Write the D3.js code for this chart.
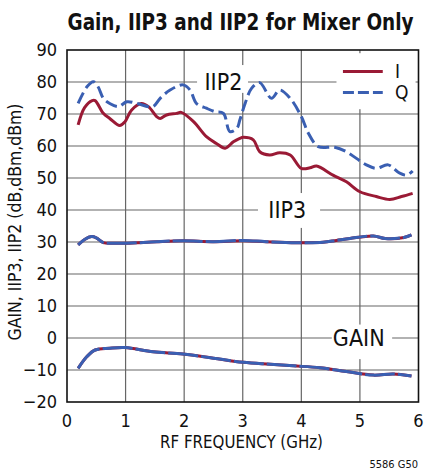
<!DOCTYPE html>
<html><head><meta charset="utf-8">
<script src="https://cdn.jsdelivr.net/npm/d3@7"></script>
<style>
html,body{margin:0;padding:0;background:#fff;}
text{font-family:'Liberation Sans Narrow','DejaVu Sans Condensed','Roboto Condensed',sans-serif;}
</style></head>
<body>
<svg id="c" width="424" height="475"></svg>
<script>
// ---- data ----
const xTicks = [0,1,2,3,4,5,6];
const yTicks = [-20,-10,0,10,20,30,40,50,60,70,80,90];

const iip2I_f = [0.19,0.3,0.43,0.48,0.62,0.73,0.9,0.99,1.1,1.27,1.39,1.53,1.59,1.7,1.87,1.95,2.16,2.38,2.55,2.7,2.84,2.95,3.01,3.18,3.29,3.46,3.63,3.81,4.0,4.15,4.26,4.54,4.77,5.0,5.28,5.51,5.71,5.9];
const iip2I_v = [66.6,72,74.2,74.2,70.2,68.6,66.4,67.6,71.2,73.3,72.3,69.2,68.6,69.7,70.2,70.5,67.6,62.9,60.8,59.3,61.3,62.4,62.7,61.9,58.2,57.2,57.9,57.2,53.0,53.2,53.75,50.9,48.8,45.7,44.2,43.3,44.2,45.2];

const iip2Q_f = [0.19,0.34,0.45,0.53,0.62,0.73,0.88,1.02,1.19,1.39,1.47,1.59,1.76,1.98,2.1,2.21,2.38,2.53,2.67,2.78,2.9,2.95,3.04,3.15,3.29,3.49,3.63,3.81,4.0,4.12,4.29,4.57,4.77,5.11,5.28,5.48,5.68,5.8,5.9];
const iip2Q_v = [73.3,78.5,80.1,78.5,74.9,73.3,72.3,73.8,73.3,72.3,72.3,74.9,77.5,79.1,77.5,73.3,71.8,70.7,70.2,64.5,65.5,68.1,73.3,78,79.8,74.9,77.5,74.9,69.2,64.0,59.8,59.6,58.2,54.1,53.0,54.1,51.5,50.9,52.2];

const iip3_f  = [0.19,0.3,0.42,0.5,0.62,0.8,1.02,1.53,1.98,2.5,3.01,3.4,3.91,4.37,4.6,4.83,5.23,5.43,5.75,5.88];
const iip3I_v = [29.1,30.8,31.7,31.3,29.8,29.6,29.6,30.1,30.4,30.1,30.4,30.1,29.8,29.9,30.5,31.1,31.9,31.1,31.4,32.2];
const iip3Q_v = [29.1,30.8,31.7,31.3,29.8,29.6,29.6,30.1,30.4,30.1,30.5,30.1,29.8,29.9,30.5,31.1,31.9,31.1,31.4,32.2];

const gain_f  = [0.19,0.34,0.48,0.73,0.99,1.47,1.98,2.5,3.01,3.47,3.86,4.32,4.77,5.23,5.57,5.88];
const gainI_v = [-9.5,-5.8,-3.75,-3.2,-3.0,-4.3,-5.0,-6.3,-7.6,-8.2,-8.7,-9.3,-10.5,-11.6,-11.25,-11.9];
const gainQ_v = [-9.5,-5.8,-3.75,-3.2,-3.0,-4.3,-5.0,-6.3,-7.6,-8.2,-8.7,-9.3,-10.5,-11.6,-11.25,-11.9];

const seriesNames = ["I","Q"];
const curveLabels = [
  {text:"IIP2", f:2.67, v:80},
  {text:"IIP3", f:3.76, v:40},
  {text:"GAIN", f:4.98, v:0}
];

// ---- drawing ----
const colI = "#9a1a35", colQ = "#3a5fb2";
const svg = d3.select("#c");
const x = d3.scaleLinear().domain([0,6]).range([67,418.5]);
const y = d3.scaleLinear().domain([-20,90]).range([402,50]);

// grid
const g = svg.append("g");
g.selectAll("line.v").data(xTicks.slice(1,-1)).join("line")
  .attr("x1",d=>x(d)).attr("x2",d=>x(d)).attr("y1",y(90)).attr("y2",y(-20))
  .attr("stroke","#666").attr("stroke-width",1.2);
g.selectAll("line.h").data(yTicks.slice(1,-1)).join("line")
  .attr("y1",d=>y(d)).attr("y2",d=>y(d)).attr("x1",x(0)).attr("x2",x(6))
  .attr("stroke","#666").attr("stroke-width",1.2);

// white boxes behind labels and legend
const boxes = [
  {x0:x(2.22), x1:x(3.09), y0:y(85.3), y1:y(76.6)},
  {x0:x(3.26), x1:x(4.32), y0:y(45.3), y1:y(34.4)},
  {x0:x(4.52), x1:x(5.55), y0:y(4.2), y1:y(-6.6)},
  {x0:x(4.6), x1:x(5.95), y0:y(89), y1:y(71.5)}
];
svg.selectAll("rect.box").data(boxes).join("rect")
  .attr("x",d=>d.x0).attr("y",d=>d.y0).attr("width",d=>d.x1-d.x0).attr("height",d=>d.y1-d.y0)
  .attr("fill","#fff");

// frame
svg.append("rect").attr("x",x(0)).attr("y",y(90)).attr("width",x(6)-x(0)).attr("height",y(-20)-y(90))
  .attr("fill","none").attr("stroke","#111").attr("stroke-width",1.6);

// curves
const line = d3.line().x(d=>x(d[0])).y(d=>y(d[1])).curve(d3.curveCatmullRom.alpha(0.5));
const zip = (a,b)=>a.map((v,i)=>[v,b[i]]);
const solid = [zip(iip2I_f,iip2I_v), zip(iip3_f,iip3I_v), zip(gain_f,gainI_v)];
const dashed = [zip(iip2Q_f,iip2Q_v), zip(iip3_f,iip3Q_v), zip(gain_f,gainQ_v)];
svg.selectAll("path.i").data(solid).join("path")
  .attr("d",line).attr("fill","none").attr("stroke",colI).attr("stroke-width",3);
svg.selectAll("path.q").data(dashed).join("path")
  .attr("d",line).attr("fill","none").attr("stroke",colQ).attr("stroke-width",3)
  .attr("stroke-dasharray",(d,i)=> i===0 ? "12,5" : "30,3");

// curve labels
svg.selectAll("text.cl").data(curveLabels).join("text")
  .attr("x",d=>x(d.f)).attr("y",d=>y(d.v)).attr("dy","0.36em")
  .attr("text-anchor","middle").attr("font-size",23).attr("fill","#111")
  .text(d=>d.text);

// legend
const leg = svg.append("g");
seriesNames.forEach((n,i)=>{
  const yy = y(i===0 ? 83.3 : 76.7);
  leg.append("line").attr("x1",x(4.71)).attr("x2",x(5.39)).attr("y1",yy).attr("y2",yy)
    .attr("stroke", i===0?colI:colQ).attr("stroke-width",3)
    .attr("stroke-dasharray", i===0 ? null : "11,4");
  leg.append("text").attr("x",x(5.6)).attr("y",yy).attr("dy","0.36em")
    .attr("font-size",19).attr("fill","#111").text(n);
});

// tick labels
svg.selectAll("text.yt").data(yTicks).join("text")
  .attr("x",57).attr("y",d=>y(d)).attr("dy","0.36em").attr("text-anchor","end")
  .attr("font-size",18).attr("fill","#111").text(d=>d3.format("d")(d));
svg.selectAll("text.xt").data(xTicks).join("text")
  .attr("x",d=>x(d)).attr("y",427).attr("text-anchor","middle")
  .attr("font-size",18).attr("fill","#111").text(d=>d);

// titles (horizontally scaled to the reference width)
function fitText(sel, width, cx, cy, rot){
  const w = sel.node().getComputedTextLength();
  const s = width / w;
  sel.attr("transform", `translate(${cx},${cy})` + (rot ? ` rotate(${rot})` : "") + ` scale(${s},1)`);
}
const title = svg.append("text").attr("text-anchor","middle")
  .attr("font-size",23).attr("font-weight","bold").attr("fill","#111")
  .text("Gain, IIP3 and IIP2 for Mixer Only");
fitText(title, 346, 240.5, 30);
const xt = svg.append("text").attr("text-anchor","middle")
  .attr("font-size",17).attr("fill","#111").text("RF FREQUENCY (GHz)");
fitText(xt, 163, 241.5, 448);
const yt = svg.append("text").attr("text-anchor","middle")
  .attr("font-size",17).attr("fill","#111").text("GAIN, IIP3, IIP2 (dB,dBm,dBm)");
fitText(yt, 237, 21, 222, -90);
svg.append("text").attr("x",418).attr("y",468).attr("text-anchor","end")
  .attr("font-size",11).attr("fill","#111").text("5586 G50");
</script>
</body></html>
